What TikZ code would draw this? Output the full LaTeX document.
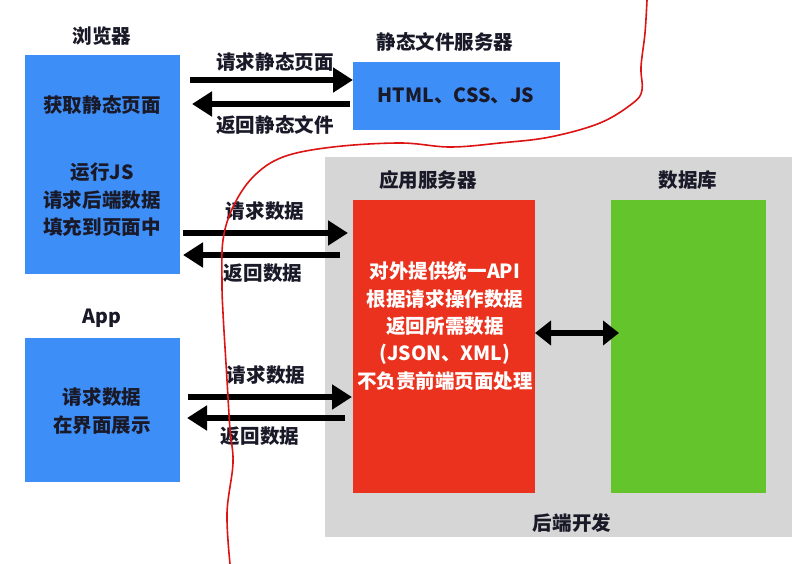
\documentclass[tikz,border=0pt]{standalone}
\usepackage{fontspec}
\setmainfont{Noto Sans CJK SC}
\usetikzlibrary{arrows.meta}
\definecolor{bboxc}{RGB}{62,142,247}
\definecolor{rboxc}{RGB}{234,50,30}
\definecolor{gboxc}{RGB}{99,196,44}
\definecolor{grayc}{RGB}{214,214,214}
\definecolor{txtc}{RGB}{25,25,40}
\definecolor{curvec}{RGB}{220,20,20}
\tikzset{
  box/.style={draw=none, anchor=north west, inner sep=0pt},
  bluebox/.style={box, fill=bboxc},
  lbl/.style={font=\fontsize{19.6}{27.5}\selectfont\bfseries, text=txtc, align=center, inner sep=0pt},
  wlbl/.style={lbl, text=white},
  arr/.style={line width=5.5bp, -{Triangle[length=20bp,width=24bp]}},
  darr/.style={line width=5.5bp, {Triangle[length=16bp,width=24bp]}-{Triangle[length=16bp,width=24bp]}}
}
\begin{document}
\begin{tikzpicture}[x=1bp,y=-1bp]
\useasboundingbox[fill=white] (0,0) rectangle (812,564);
% boxes
\node[bluebox, minimum width=155bp, minimum height=219bp] (browser) at (25,55) {};
\node[bluebox, minimum width=207bp, minimum height=68bp] (static) at (353,62) {};
\node[box, fill=grayc, minimum width=467bp, minimum height=380bp] (backend) at (325,157) {};
\node[box, fill=rboxc, minimum width=182bp, minimum height=293bp] (appsrv) at (353,200) {};
\node[box, fill=gboxc, minimum width=155bp, minimum height=293bp] (db) at (611,200) {};
\node[bluebox, minimum width=155bp, minimum height=144bp] (app) at (25,338) {};
% titles
\node[lbl] (tbrowser) at (102,36) {浏览器};
\node[lbl] (tstatic) at (445,42) {静态文件服务器};
\node[lbl] (tappsrv) at (428,180) {应用服务器};
\node[lbl] (tdb) at (688,180) {数据库};
\node[lbl] (tback) at (572,523) {后端开发};
\node[lbl] (tapp) at (102,318) {App};
% box texts
\node[lbl] (b1) at (102,105) {获取静态页面};
\node[lbl] (b2) at (102,200) {运行JS\\请求后端数据\\填充到页面中};
\node[lbl] (s1) at (456,96) {HTML、CSS、JS};
\node[wlbl] (a1) at (445,326) {对外提供统一API\\根据请求操作数据\\返回所需数据\\(JSON、XML)\\不负责前端页面处理};
\node[lbl] (p1) at (102,411) {请求数据\\在界面展示};
% arrow end points
\coordinate (r1s) at (190,80);  \coordinate (r1e) at (353,80);
\coordinate (l1s) at (350,104); \coordinate (l1e) at (192,104);
\coordinate (r2s) at (183,233); \coordinate (r2e) at (348,233);
\coordinate (l2s) at (340,255); \coordinate (l2e) at (183,255);
\coordinate (r3s) at (188,397); \coordinate (r3e) at (352,397);
\coordinate (l3s) at (345,418); \coordinate (l3e) at (187,418);
\coordinate (ds) at (535,333); \coordinate (de) at (619,333);
\draw[arr] (r1s) -- (r1e);
\draw[arr] (l1s) -- (l1e);
\draw[arr] (r2s) -- (r2e);
\draw[arr] (l2s) -- (l2e);
\draw[arr] (r3s) -- (r3e);
\draw[arr] (l3s) -- (l3e);
\draw[darr] (ds) -- (de);
% arrow labels
\node[lbl] (q1) at (275,62) {请求静态页面};
\node[lbl] (q2) at (275,125) {返回静态文件};
\node[lbl] (q3) at (265,211) {请求数据};
\node[lbl] (q4) at (263,273) {返回数据};
\node[lbl] (q5) at (266,375) {请求数据};
\node[lbl] (q6) at (260,436) {返回数据};
% freehand red curve
\draw[curvec, line width=1.6bp, line cap=round] plot[smooth, tension=0.6] coordinates {
(647,0) (645,33) (641,67) (642,90) (633,103) (600,123) (550,137) (500,143) (450,147) (400,143) (333,147) (283,157) (253,177) (233,207) (223,240) (222,283) (223,313) (227,380) (230,430) (233,463) (227,513) (230,564)};
\end{tikzpicture}
\end{document}
